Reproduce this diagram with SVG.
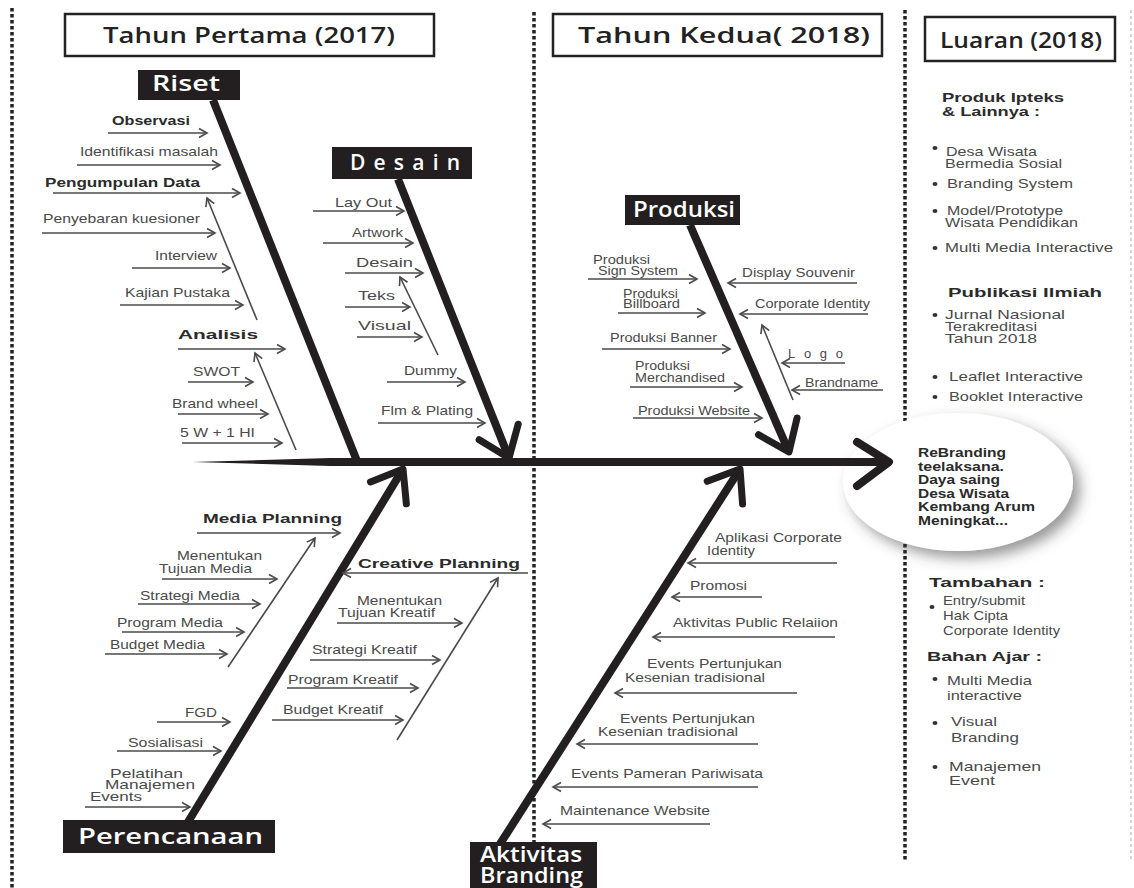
<svg xmlns="http://www.w3.org/2000/svg" width="1134" height="888" viewBox="0 0 1134 888">
<style>
.t{font-family:"Liberation Sans",Arial,sans-serif;font-size:13px;fill:#4a4a4a}
.b{font-family:"Liberation Sans",Arial,sans-serif;font-size:13px;font-weight:bold;fill:#2b2b2b}
.hd{font-family:"Open Sans","DejaVu Sans",sans-serif;font-weight:600;font-size:21px;fill:#222}
.bx{font-family:"Open Sans","DejaVu Sans",sans-serif;font-weight:600;font-size:21px;fill:#fff}
.hbox{fill:#fff;stroke:#222;stroke-width:2.5}
.nbox{fill:#231f20}
.arr{stroke:#4a4a4a;stroke-width:1.6;fill:none;marker-end:url(#ah)}
.spine{stroke:#231f20;stroke-width:8;fill:none}
.dot{stroke:#222;stroke-width:3.5;stroke-dasharray:3.5 2.5;fill:none}
.bul{fill:#333}
</style>
<defs>
<marker id="ah" markerUnits="userSpaceOnUse" viewBox="-10 -6 12 12" markerWidth="12" markerHeight="12" refX="0" refY="0" orient="auto" overflow="visible">
<path d="M-8,-4.5 L0,0 L-8,4.5" fill="none" stroke="#4a4a4a" stroke-width="1.6"/>
</marker>
<marker id="bh" markerUnits="userSpaceOnUse" viewBox="-40 -30 50 60" markerWidth="50" markerHeight="60" refX="0" refY="0" orient="auto" overflow="visible">
<path d="M-28,-21 L0,0 L-28,21" fill="none" stroke="#231f20" stroke-width="7" stroke-linecap="round" stroke-linejoin="round"/>
</marker>
<filter id="sh" x="-30%" y="-30%" width="160%" height="170%">
<feDropShadow dx="7" dy="7" stdDeviation="7" flood-color="#444" flood-opacity="0.55"/>
</filter>
</defs>
<rect width="1134" height="888" fill="#fff"/>

<g id="dividers">
<line class="dot" x1="12" y1="8" x2="12" y2="888"/>
<line class="dot" x1="534" y1="12" x2="534" y2="842"/>
<line class="dot" x1="905" y1="10" x2="905" y2="860"/>
<line x1="1131" y1="10" x2="1131" y2="860" stroke="#aaa" stroke-width="1" stroke-dasharray="3 3"/>
</g>

<g id="header-2017">
<rect class="hbox" x="65" y="14" width="369" height="42"/>
<text class="hd" x="103" y="43" textLength="292" lengthAdjust="spacingAndGlyphs">Tahun Pertama (2017)</text>
</g>
<g id="header-2018">
<rect class="hbox" x="553" y="14" width="329" height="42"/>
<text class="hd" x="578" y="43" textLength="292" lengthAdjust="spacingAndGlyphs">Tahun Kedua( 2018)</text>
</g>
<g id="header-luaran">
<rect class="hbox" x="925" y="17" width="190" height="44"/>
<text class="hd" x="940" y="48" font-size="22" textLength="162" lengthAdjust="spacingAndGlyphs">Luaran (2018)</text>
</g>

<g id="node-outcome">
<ellipse cx="958" cy="482" rx="115" ry="69" fill="#fff" filter="url(#sh)"/>
<g class="b" font-size="14">
<text x="918" y="457" textLength="88" lengthAdjust="spacingAndGlyphs">ReBranding</text>
<text x="918" y="471" textLength="86" lengthAdjust="spacingAndGlyphs">teelaksana.</text>
<text x="918" y="484" textLength="82" lengthAdjust="spacingAndGlyphs">Daya saing</text>
<text x="918" y="498" textLength="91" lengthAdjust="spacingAndGlyphs">Desa Wisata</text>
<text x="918" y="511" textLength="117" lengthAdjust="spacingAndGlyphs">Kembang Arum</text>
<text x="918" y="525" textLength="90" lengthAdjust="spacingAndGlyphs">Meningkat...</text>
</g>
</g>

<g id="connectors">
<polygon points="192,462 330,458 886,458 886,466 330,466" fill="#231f20"/>
<path d="M857,442 L889,462 L857,486" fill="none" stroke="#231f20" stroke-width="8" stroke-linecap="round" stroke-linejoin="round"/>
<line class="spine" x1="213" y1="100" x2="357" y2="461"/>
<line class="spine" x1="398" y1="179" x2="509" y2="458" marker-end="url(#bh)"/>
<line class="spine" x1="690" y1="225" x2="789" y2="452" marker-end="url(#bh)"/>
<line class="spine" x1="188" y1="822" x2="403" y2="469" marker-end="url(#bh)"/>
<line class="spine" x1="500" y1="844" x2="740" y2="469" marker-end="url(#bh)"/>

<line class="arr" x1="108" y1="133" x2="207" y2="133"/>
<line class="arr" x1="77" y1="165" x2="220" y2="165"/>
<line class="arr" x1="53" y1="193" x2="240" y2="193"/>
<line class="arr" x1="42" y1="233" x2="215" y2="233"/>
<line class="arr" x1="132" y1="268" x2="230" y2="268"/>
<line class="arr" x1="120" y1="305" x2="243" y2="305"/>
<line class="arr" x1="178" y1="349" x2="285" y2="349"/>
<line class="arr" x1="188" y1="382" x2="253" y2="382"/>
<line class="arr" x1="178" y1="414" x2="268" y2="414"/>
<line class="arr" x1="182" y1="443" x2="282" y2="443"/>
<line class="arr" x1="257" y1="320" x2="207" y2="198"/>
<line class="arr" x1="296" y1="450" x2="255" y2="353"/>

<line class="arr" x1="313" y1="211" x2="404" y2="211"/>
<line class="arr" x1="323" y1="243" x2="413" y2="243"/>
<line class="arr" x1="345" y1="273" x2="423" y2="273"/>
<line class="arr" x1="345" y1="307" x2="410" y2="307"/>
<line class="arr" x1="357" y1="337" x2="422" y2="337"/>
<line class="arr" x1="387" y1="382" x2="465" y2="382"/>
<line class="arr" x1="378" y1="423" x2="485" y2="423"/>
<line class="arr" x1="438" y1="355" x2="400" y2="277"/>

<line class="arr" x1="588" y1="279" x2="697" y2="279"/>
<line class="arr" x1="618" y1="313" x2="705" y2="313"/>
<line class="arr" x1="602" y1="349" x2="730" y2="349"/>
<line class="arr" x1="630" y1="387" x2="742" y2="387"/>
<line class="arr" x1="633" y1="418" x2="762" y2="418"/>
<line class="arr" x1="857" y1="283" x2="728" y2="283"/>
<line class="arr" x1="868" y1="314" x2="740" y2="314"/>
<line class="arr" x1="845" y1="363" x2="782" y2="363"/>
<line class="arr" x1="883" y1="390" x2="792" y2="390"/>
<line class="arr" x1="793" y1="400" x2="762" y2="325"/>

<line class="arr" x1="197" y1="533" x2="340" y2="533"/>
<line class="arr" x1="162" y1="579" x2="277" y2="579"/>
<line class="arr" x1="138" y1="604" x2="260" y2="604"/>
<line class="arr" x1="122" y1="632" x2="244" y2="632"/>
<line class="arr" x1="105" y1="654" x2="227" y2="654"/>
<line class="arr" x1="228" y1="667" x2="315" y2="538"/>

<line class="arr" x1="528" y1="573" x2="343" y2="573"/>
<line class="arr" x1="337" y1="623" x2="462" y2="623"/>
<line class="arr" x1="310" y1="660" x2="440" y2="660"/>
<line class="arr" x1="287" y1="688" x2="418" y2="688"/>
<line class="arr" x1="272" y1="720" x2="403" y2="720"/>
<line class="arr" x1="397" y1="740" x2="498" y2="578"/>

<line class="arr" x1="157" y1="722" x2="230" y2="722"/>
<line class="arr" x1="117" y1="751" x2="221" y2="751"/>
<line class="arr" x1="85" y1="807" x2="190" y2="807"/>

<line class="arr" x1="837" y1="563" x2="688" y2="563"/>
<line class="arr" x1="762" y1="597" x2="672" y2="597"/>
<line class="arr" x1="835" y1="637" x2="653" y2="637"/>
<line class="arr" x1="797" y1="693" x2="615" y2="693"/>
<line class="arr" x1="758" y1="744" x2="577" y2="744"/>
<line class="arr" x1="758" y1="787" x2="553" y2="787"/>
<line class="arr" x1="710" y1="824" x2="543" y2="824"/>
</g>

<g id="node-riset">
<rect class="nbox" x="138" y="70" width="102" height="30"/>
<text class="bx" x="152" y="91" textLength="68" lengthAdjust="spacingAndGlyphs">Riset</text>
</g>
<g id="labels-riset">
<text class="b" x="112" y="125" textLength="78" lengthAdjust="spacingAndGlyphs">Observasi</text>
<text class="t" x="80" y="156" textLength="138" lengthAdjust="spacingAndGlyphs">Identifikasi masalah</text>
<text class="b" x="45" y="187" textLength="155" lengthAdjust="spacingAndGlyphs">Pengumpulan Data</text>
<text class="t" x="43" y="223" textLength="157" lengthAdjust="spacingAndGlyphs">Penyebaran kuesioner</text>
<text class="t" x="155" y="260" textLength="62" lengthAdjust="spacingAndGlyphs">Interview</text>
<text class="t" x="125" y="297" textLength="105" lengthAdjust="spacingAndGlyphs">Kajian Pustaka</text>
<text class="b" x="178" y="339" font-size="17" textLength="80" lengthAdjust="spacingAndGlyphs">Analisis</text>
<text class="t" x="193" y="376" textLength="47" lengthAdjust="spacingAndGlyphs">SWOT</text>
<text class="t" x="172" y="408" textLength="86" lengthAdjust="spacingAndGlyphs">Brand wheel</text>
<text class="t" x="180" y="437" textLength="75" lengthAdjust="spacingAndGlyphs">5 W + 1 HI</text>
</g>

<g id="node-desain">
<rect class="nbox" x="332" y="147" width="140" height="32"/>
<text class="bx" x="350" y="170" textLength="110" lengthAdjust="spacing">Desain</text>
</g>
<g id="labels-desain">
<text class="t" x="335" y="207" textLength="57" lengthAdjust="spacingAndGlyphs">Lay Out</text>
<text class="t" x="352" y="237" textLength="51" lengthAdjust="spacingAndGlyphs">Artwork</text>
<text class="t" x="356" y="267" textLength="57" lengthAdjust="spacingAndGlyphs">Desain</text>
<text class="t" x="358" y="300" textLength="37" lengthAdjust="spacingAndGlyphs">Teks</text>
<text class="t" x="358" y="330" textLength="53" lengthAdjust="spacingAndGlyphs">Visual</text>
<text class="t" x="404" y="375" textLength="53" lengthAdjust="spacingAndGlyphs">Dummy</text>
<text class="t" x="381" y="415" textLength="92" lengthAdjust="spacingAndGlyphs">Flm &amp; Plating</text>
</g>

<g id="node-produksi">
<rect class="nbox" x="625" y="195" width="115" height="30"/>
<text class="bx" x="633" y="217" textLength="102" lengthAdjust="spacingAndGlyphs">Produksi</text>
</g>
<g id="labels-produksi">
<text class="t" x="593" y="264" font-size="12" textLength="57" lengthAdjust="spacingAndGlyphs">Produksi</text>
<text class="t" x="598" y="275" font-size="12" textLength="80" lengthAdjust="spacingAndGlyphs">Sign System</text>
<text class="t" x="623" y="298" font-size="9" textLength="55" lengthAdjust="spacingAndGlyphs">Produksi</text>
<text class="t" x="623" y="308" font-size="9" textLength="57" lengthAdjust="spacingAndGlyphs">Billboard</text>
<text class="t" x="610" y="342" textLength="107" lengthAdjust="spacingAndGlyphs">Produksi Banner</text>
<text class="t" x="635" y="370" font-size="12" textLength="55" lengthAdjust="spacingAndGlyphs">Produksi</text>
<text class="t" x="635" y="382" font-size="12" textLength="90" lengthAdjust="spacingAndGlyphs">Merchandised</text>
<text class="t" x="638" y="415" textLength="112" lengthAdjust="spacingAndGlyphs">Produksi Website</text>
<text class="t" x="742" y="277" textLength="113" lengthAdjust="spacingAndGlyphs">Display Souvenir</text>
<text class="t" x="755" y="308" textLength="115" lengthAdjust="spacingAndGlyphs">Corporate Identity</text>
<text class="t" x="788" y="358" textLength="55" lengthAdjust="spacing">Logo</text>
<text class="t" x="805" y="387" textLength="73" lengthAdjust="spacingAndGlyphs">Brandname</text>
</g>

<g id="node-perencanaan">
<rect class="nbox" x="63" y="820" width="212" height="33"/>
<text class="bx" x="78" y="844" textLength="185" lengthAdjust="spacingAndGlyphs">Perencanaan</text>
</g>
<g id="labels-perencanaan">
<text class="b" x="203" y="523" font-size="17" textLength="139" lengthAdjust="spacingAndGlyphs">Media Planning</text>
<text class="t" x="177" y="560" textLength="85" lengthAdjust="spacingAndGlyphs">Menentukan</text>
<text class="t" x="159" y="573" textLength="93" lengthAdjust="spacingAndGlyphs">Tujuan Media</text>
<text class="t" x="140" y="600" textLength="100" lengthAdjust="spacingAndGlyphs">Strategi Media</text>
<text class="t" x="117" y="627" textLength="106" lengthAdjust="spacingAndGlyphs">Program Media</text>
<text class="t" x="110" y="649" textLength="95" lengthAdjust="spacingAndGlyphs">Budget Media</text>
<text class="b" x="358" y="568" font-size="17" textLength="162" lengthAdjust="spacingAndGlyphs">Creative Planning</text>
<text class="t" x="357" y="605" textLength="85" lengthAdjust="spacingAndGlyphs">Menentukan</text>
<text class="t" x="338" y="617" textLength="97" lengthAdjust="spacingAndGlyphs">Tujuan Kreatif</text>
<text class="t" x="312" y="654" textLength="105" lengthAdjust="spacingAndGlyphs">Strategi Kreatif</text>
<text class="t" x="288" y="684" textLength="110" lengthAdjust="spacingAndGlyphs">Program Kreatif</text>
<text class="t" x="283" y="714" textLength="100" lengthAdjust="spacingAndGlyphs">Budget Kreatif</text>
<text class="t" x="185" y="717" textLength="32" lengthAdjust="spacingAndGlyphs">FGD</text>
<text class="t" x="128" y="747" textLength="75" lengthAdjust="spacingAndGlyphs">Sosialisasi</text>
<text class="t" x="110" y="778" font-size="12" textLength="73" lengthAdjust="spacingAndGlyphs">Pelatihan</text>
<text class="t" x="105" y="789" font-size="12" textLength="90" lengthAdjust="spacingAndGlyphs">Manajemen</text>
<text class="t" x="90" y="801" font-size="12" textLength="52" lengthAdjust="spacingAndGlyphs">Events</text>
</g>

<g id="node-aktivitas">
<rect class="nbox" x="470" y="842" width="127" height="46"/>
<text class="bx" x="480" y="862" font-size="20" textLength="102" lengthAdjust="spacingAndGlyphs">Aktivitas</text>
<text class="bx" x="480" y="883" font-size="20" textLength="103" lengthAdjust="spacingAndGlyphs">Branding</text>
</g>
<g id="labels-aktivitas">
<text class="t" x="715" y="542" font-size="14" textLength="127" lengthAdjust="spacingAndGlyphs">Aplikasi Corporate</text>
<text class="t" x="707" y="555" font-size="14" textLength="48" lengthAdjust="spacingAndGlyphs">Identity</text>
<text class="t" x="690" y="590" font-size="14" textLength="57" lengthAdjust="spacingAndGlyphs">Promosi</text>
<text class="t" x="673" y="627" font-size="14" textLength="165" lengthAdjust="spacingAndGlyphs">Aktivitas Public Relaiion</text>
<text class="t" x="647" y="668" font-size="14" textLength="135" lengthAdjust="spacingAndGlyphs">Events Pertunjukan</text>
<text class="t" x="625" y="682" font-size="14" textLength="140" lengthAdjust="spacingAndGlyphs">Kesenian tradisional</text>
<text class="t" x="620" y="723" font-size="14" textLength="135" lengthAdjust="spacingAndGlyphs">Events Pertunjukan</text>
<text class="t" x="598" y="736" font-size="14" textLength="140" lengthAdjust="spacingAndGlyphs">Kesenian tradisional</text>
<text class="t" x="571" y="778" font-size="14" textLength="192" lengthAdjust="spacingAndGlyphs">Events Pameran Pariwisata</text>
<text class="t" x="560" y="815" font-size="14" textLength="150" lengthAdjust="spacingAndGlyphs">Maintenance Website</text>
</g>

<g id="luaran-list">
<text class="b" x="942" y="102" font-size="15" textLength="122" lengthAdjust="spacingAndGlyphs">Produk Ipteks</text>
<text class="b" x="942" y="116" font-size="15" textLength="98" lengthAdjust="spacingAndGlyphs">&amp; Lainnya :</text>
<ellipse class="bul" cx="935" cy="148" rx="2.5" ry="2"/>
<text class="t" x="946" y="156" font-size="13.5" textLength="91" lengthAdjust="spacingAndGlyphs">Desa Wisata</text>
<text class="t" x="945" y="168" font-size="13.5" textLength="117" lengthAdjust="spacingAndGlyphs">Bermedia Sosial</text>
<ellipse class="bul" cx="935" cy="184" rx="2.5" ry="2"/>
<text class="t" x="947" y="188" font-size="13.5" textLength="126" lengthAdjust="spacingAndGlyphs">Branding System</text>
<ellipse class="bul" cx="935" cy="211" rx="2.5" ry="2"/>
<text class="t" x="947" y="215" font-size="13.5" textLength="116" lengthAdjust="spacingAndGlyphs">Model/Prototype</text>
<text class="t" x="945" y="227" font-size="13.5" textLength="133" lengthAdjust="spacingAndGlyphs">Wisata Pendidikan</text>
<ellipse class="bul" cx="935" cy="248" rx="2.5" ry="2"/>
<text class="t" x="945" y="252" font-size="13.5" textLength="168" lengthAdjust="spacingAndGlyphs">Multi Media Interactive</text>
<text class="b" x="948" y="297" font-size="17" textLength="154" lengthAdjust="spacingAndGlyphs">Publikasi Ilmiah</text>
<ellipse class="bul" cx="935" cy="315" rx="2.5" ry="2"/>
<text class="t" x="945" y="319" font-size="13.5" textLength="120" lengthAdjust="spacingAndGlyphs">Jurnal Nasional</text>
<text class="t" x="945" y="331" font-size="13.5" textLength="92" lengthAdjust="spacingAndGlyphs">Terakreditasi</text>
<text class="t" x="945" y="343" font-size="13.5" textLength="92" lengthAdjust="spacingAndGlyphs">Tahun 2018</text>
<ellipse class="bul" cx="935" cy="377" rx="2.5" ry="2"/>
<text class="t" x="949" y="381" font-size="13.5" textLength="134" lengthAdjust="spacingAndGlyphs">Leaflet Interactive</text>
<ellipse class="bul" cx="935" cy="397" rx="2.5" ry="2"/>
<text class="t" x="949" y="401" font-size="13.5" textLength="134" lengthAdjust="spacingAndGlyphs">Booklet Interactive</text>

<text class="b" x="929" y="587" font-size="16" textLength="116" lengthAdjust="spacingAndGlyphs">Tambahan :</text>
<ellipse class="bul" cx="932" cy="607" rx="2.5" ry="2"/>
<text class="t" x="943" y="605" font-size="13" textLength="82" lengthAdjust="spacingAndGlyphs">Entry/submit</text>
<text class="t" x="943" y="620" font-size="13" textLength="65" lengthAdjust="spacingAndGlyphs">Hak Cipta</text>
<text class="t" x="943" y="635" font-size="13" textLength="117" lengthAdjust="spacingAndGlyphs">Corporate Identity</text>
<text class="b" x="927" y="661" font-size="16" textLength="115" lengthAdjust="spacingAndGlyphs">Bahan Ajar :</text>
<ellipse class="bul" cx="935" cy="679" rx="2.5" ry="2"/>
<text class="t" x="947" y="685" font-size="14.5" textLength="85" lengthAdjust="spacingAndGlyphs">Multi Media</text>
<text class="t" x="947" y="700" font-size="14.5" textLength="75" lengthAdjust="spacingAndGlyphs">interactive</text>
<ellipse class="bul" cx="935" cy="723" rx="2.5" ry="2"/>
<text class="t" x="951" y="726" font-size="14.5" textLength="46" lengthAdjust="spacingAndGlyphs">Visual</text>
<text class="t" x="951" y="742" font-size="14.5" textLength="68" lengthAdjust="spacingAndGlyphs">Branding</text>
<ellipse class="bul" cx="935" cy="767" rx="2.5" ry="2"/>
<text class="t" x="949" y="771" font-size="14.5" textLength="92" lengthAdjust="spacingAndGlyphs">Manajemen</text>
<text class="t" x="949" y="785" font-size="14.5" textLength="46" lengthAdjust="spacingAndGlyphs">Event</text>
</g>
</svg>
